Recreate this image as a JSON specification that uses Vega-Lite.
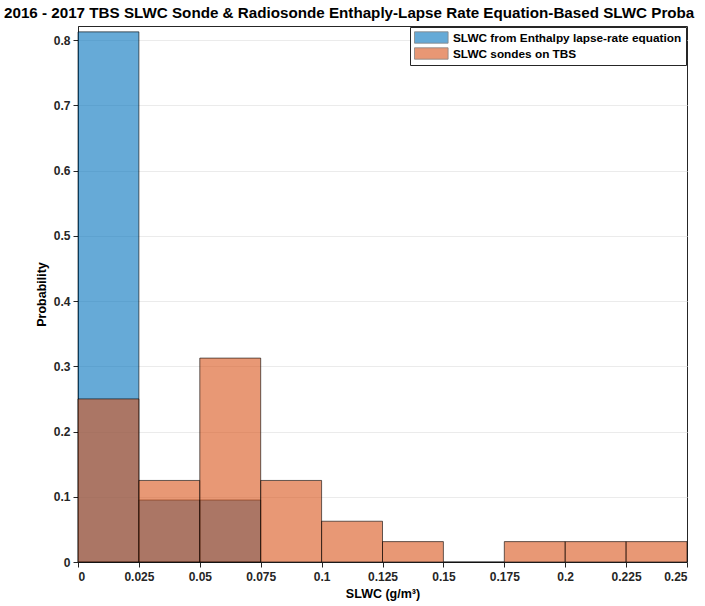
{
  "$schema": "https://vega.github.io/schema/vega-lite/v6.json",
  "width": 609,
  "height": 536,
  "autosize": {"type": "none"},
  "padding": {"left": 78, "top": 26, "right": 18, "bottom": 44},
  "background": "white",
  "title": {
    "text": "2016 - 2017 TBS SLWC Sonde & Radiosonde Enthaply-Lapse Rate Equation-Based SLWC Proba",
    "anchor": "start",
    "frame": "group",
    "dx": -74,
    "offset": 5,
    "font": "Liberation Sans",
    "fontSize": 15.2,
    "fontWeight": "bold",
    "color": "#000000"
  },
  "config": {
    "view": {"stroke": "#262626", "strokeWidth": 1},
    "axis": {
      "labelFont": "Liberation Sans",
      "labelFontWeight": "bold",
      "labelFontSize": 12,
      "labelColor": "#262626",
      "titleFont": "Liberation Sans",
      "titleFontWeight": "bold",
      "titleFontSize": 12.5,
      "titleColor": "#000000",
      "domainColor": "#262626",
      "tickColor": "#262626",
      "gridColor": "#ebebeb",
      "gridWidth": 1
    }
  },
  "data": {
    "values": [
      {"series": "SLWC from Enthalpy lapse-rate equation", "x0": 0.0, "x1": 0.025, "p": 0.8125},
      {"series": "SLWC from Enthalpy lapse-rate equation", "x0": 0.025, "x1": 0.05, "p": 0.095},
      {"series": "SLWC from Enthalpy lapse-rate equation", "x0": 0.05, "x1": 0.075, "p": 0.095},
      {"series": "SLWC sondes on TBS", "x0": 0.0, "x1": 0.025, "p": 0.25},
      {"series": "SLWC sondes on TBS", "x0": 0.025, "x1": 0.05, "p": 0.125},
      {"series": "SLWC sondes on TBS", "x0": 0.05, "x1": 0.075, "p": 0.3125},
      {"series": "SLWC sondes on TBS", "x0": 0.075, "x1": 0.1, "p": 0.125},
      {"series": "SLWC sondes on TBS", "x0": 0.1, "x1": 0.125, "p": 0.0625},
      {"series": "SLWC sondes on TBS", "x0": 0.125, "x1": 0.15, "p": 0.03125},
      {"series": "SLWC sondes on TBS", "x0": 0.15, "x1": 0.175, "p": 0.0},
      {"series": "SLWC sondes on TBS", "x0": 0.175, "x1": 0.2, "p": 0.03125},
      {"series": "SLWC sondes on TBS", "x0": 0.2, "x1": 0.225, "p": 0.03125},
      {"series": "SLWC sondes on TBS", "x0": 0.225, "x1": 0.25, "p": 0.03125}
    ]
  },
  "mark": {"type": "bar", "fillOpacity": 0.6, "stroke": "#000000", "strokeWidth": 0.8, "strokeOpacity": 0.75},
  "encoding": {
    "x": {
      "field": "x0",
      "type": "quantitative",
      "scale": {"domain": [0, 0.25], "nice": false},
      "axis": {
        "title": "SLWC (g/m³)",
        "values": [0, 0.025, 0.05, 0.075, 0.1, 0.125, 0.15, 0.175, 0.2, 0.225, 0.25],
        "labelExpr": "datum.value == 0 ? '0' : format(datum.value, '~g')",
        "tickSize": 5,
        "labelPadding": 4,
        "titlePadding": 5,
        "grid": false
      }
    },
    "x2": {"field": "x1"},
    "y": {
      "field": "p",
      "type": "quantitative",
      "scale": {"domain": [0, 0.8215], "nice": false},
      "axis": {
        "title": "Probability",
        "values": [0, 0.1, 0.2, 0.3, 0.4, 0.5, 0.6, 0.7, 0.8],
        "labelExpr": "datum.value == 0 ? '0' : format(datum.value, '.1f')",
        "tickSize": 5,
        "labelPadding": 3,
        "titlePadding": 5,
        "grid": true
      }
    },
    "y2": {"datum": 0},
    "color": {
      "field": "series",
      "type": "nominal",
      "scale": {
        "domain": ["SLWC from Enthalpy lapse-rate equation", "SLWC sondes on TBS"],
        "range": ["#0072BD", "#D95319"]
      },
      "legend": {
        "title": null,
        "orient": "top-right",
        "offset": 1,
        "direction": "vertical",
        "strokeColor": "#262626",
        "fillColor": "white",
        "padding": 4,
        "rowPadding": 1,
        "symbolType": "M-1,-0.95H4.6V0.95H-1Z",
        "symbolSize": 144,
        "symbolStrokeColor": "#333333",
        "symbolStrokeWidth": 0.8,
        "symbolOpacity": 0.6,
        "labelOffset": 26,
        "labelFont": "Liberation Sans",
        "labelFontWeight": "bold",
        "labelFontSize": 11.8,
        "labelColor": "#000000",
        "labelLimit": 300
      }
    },
    "order": {"field": "series"}
  }
}
